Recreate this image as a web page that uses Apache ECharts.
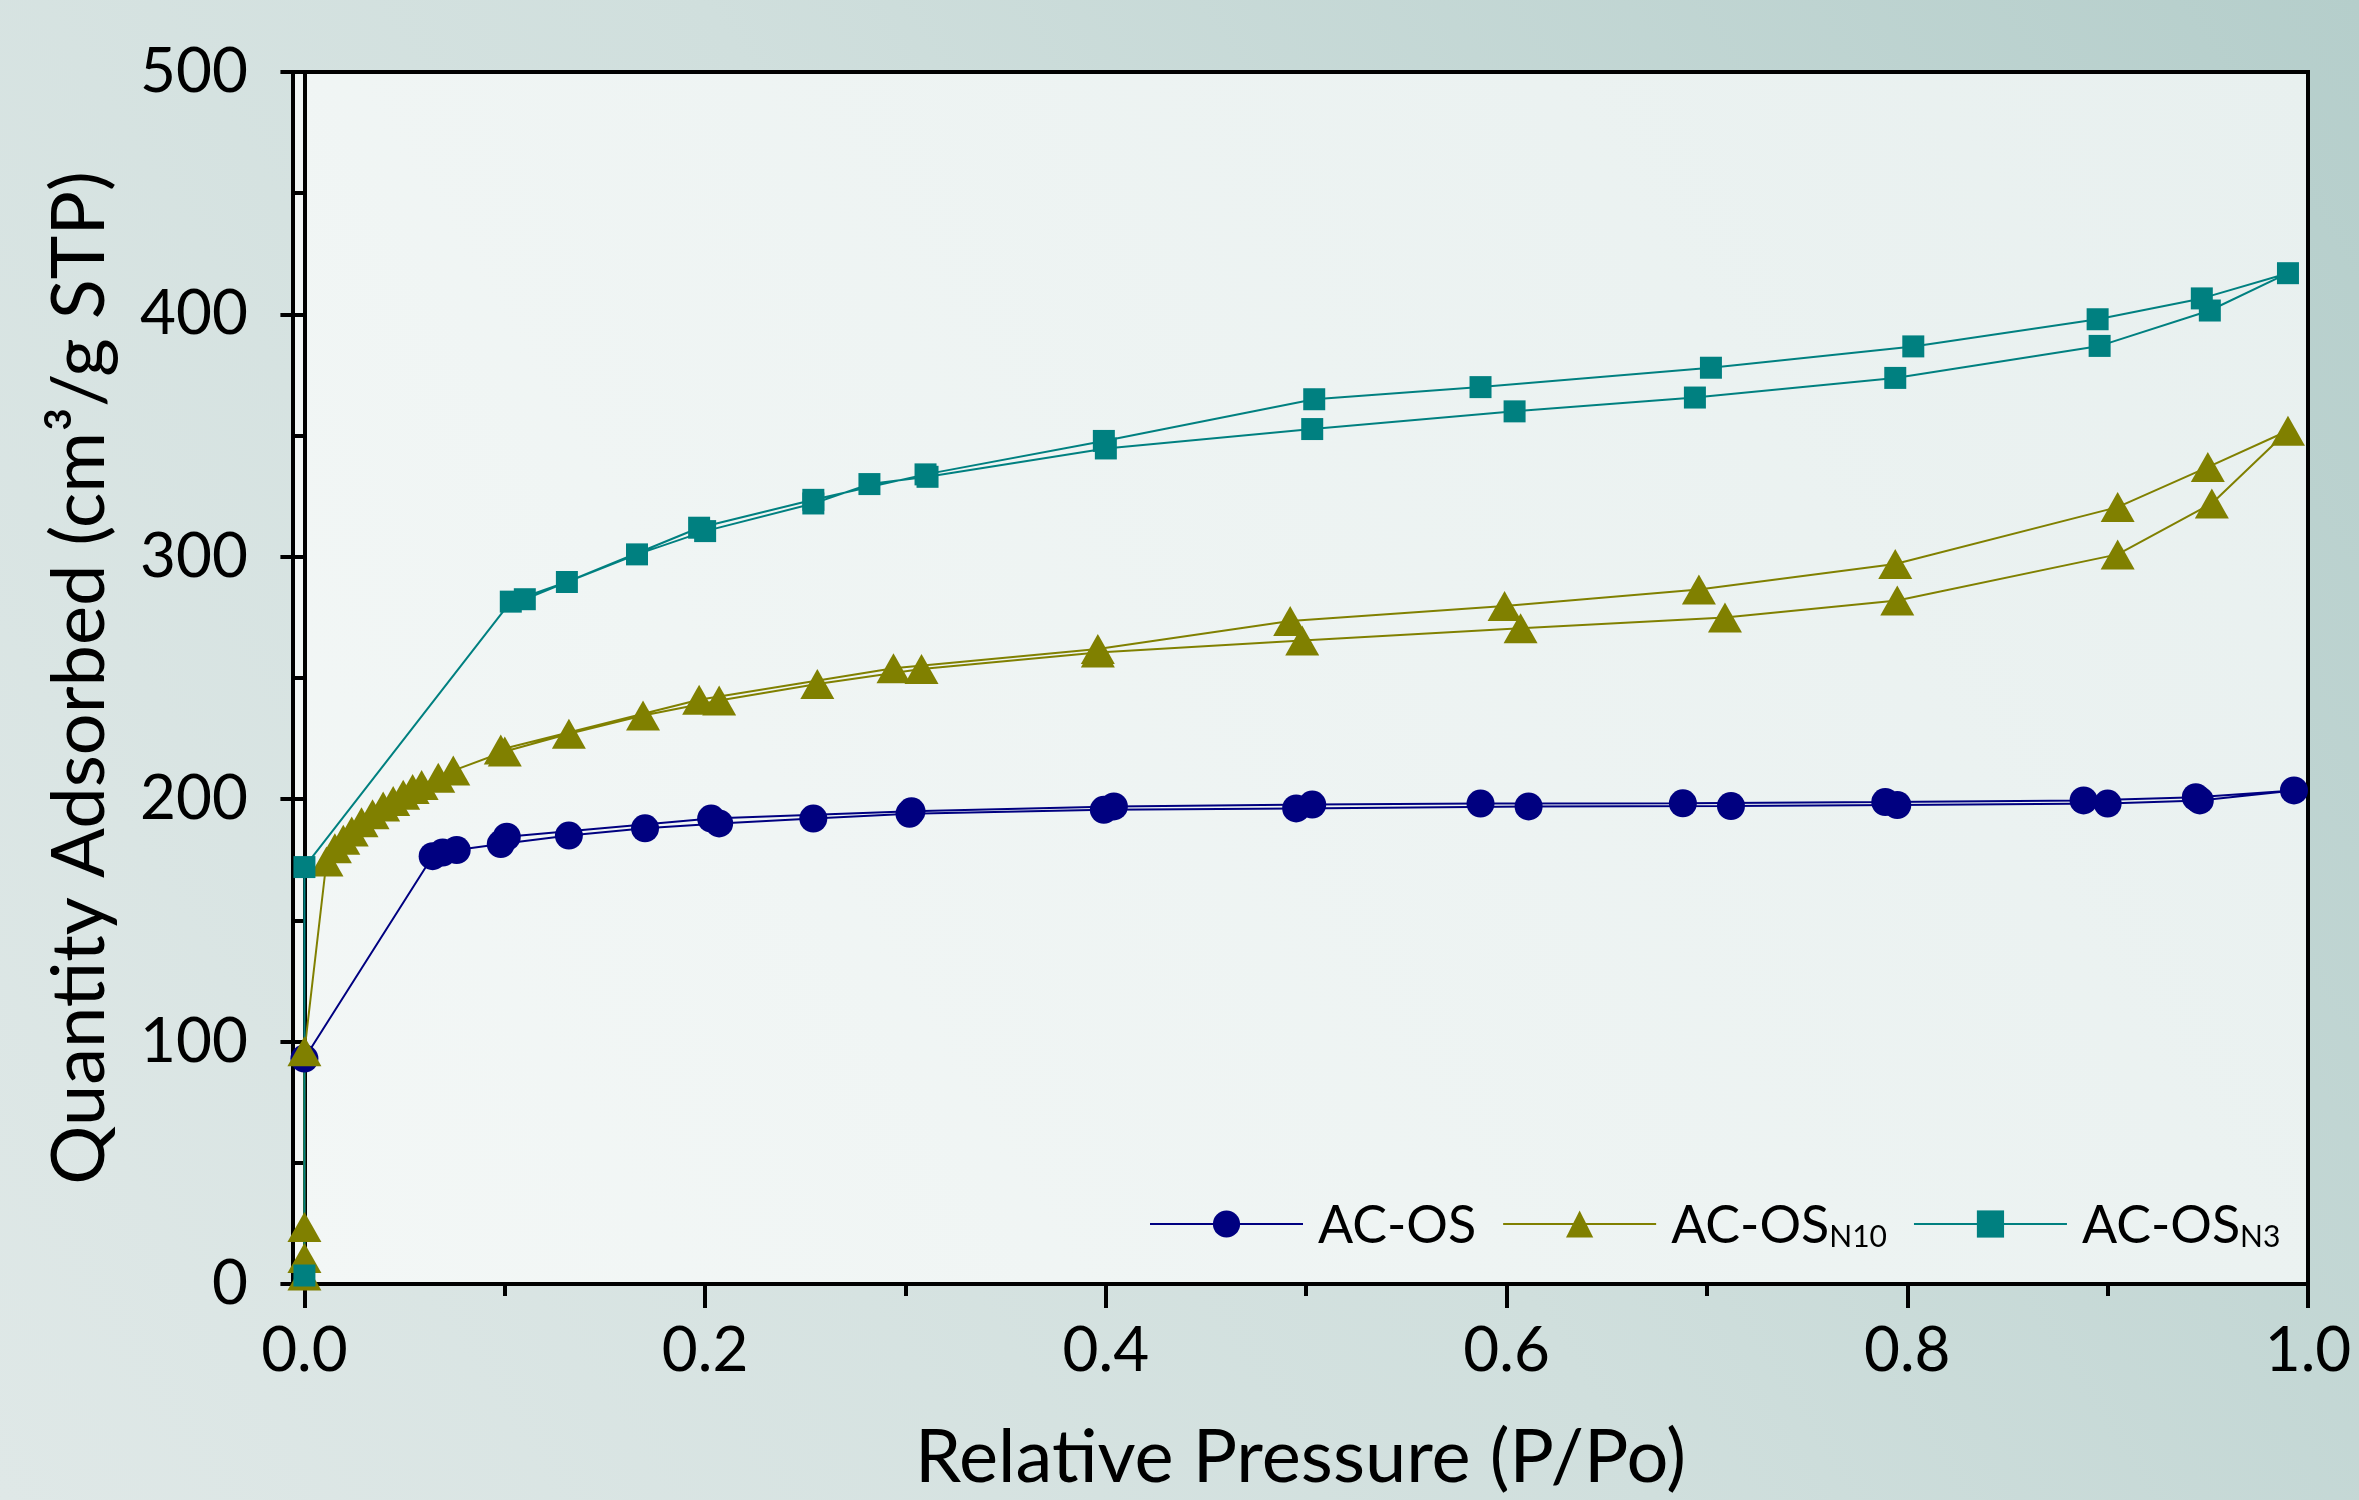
<!DOCTYPE html>
<html>
<head>
<meta charset="utf-8">
<title>Isotherms</title>
<script src="https://cdn.jsdelivr.net/npm/echarts@6/dist/echarts.min.js"></script>
<style>
  html, body { margin: 0; padding: 0; }
  #chart { width: 2359px; height: 1500px; }
</style>
</head>
<body>
<div id="chart"></div>
<script>
// relative pressure / quantity adsorbed pairs, adsorption branch then desorption branch
const acOsAds = [[0, 93], [0.064, 176.5], [0.069, 178], [0.076, 179], [0.098, 181.5], [0.132, 185], [0.17, 188], [0.207, 190], [0.254, 192], [0.302, 194], [0.399, 195.6], [0.495, 196.2], [0.611, 197], [0.712, 197.2], [0.795, 197.6], [0.9, 198.2], [0.946, 199.5], [0.993, 203.6]]
const acOsDes = [[0.944, 200.8], [0.888, 199.5], [0.789, 198.8], [0.688, 198.3], [0.587, 198.2], [0.503, 197.8], [0.404, 197], [0.303, 195], [0.203, 192], [0.101, 184.5]]

const acOsN10Ads = [[0, 3.5], [0, 10.7], [0, 23.5], [0, 96], [0.011, 174.3], [0.0152, 179.8], [0.0194, 183.3], [0.0236, 186.7], [0.0285, 190.5], [0.034, 193.8], [0.0393, 197], [0.0443, 199.3], [0.0493, 201.8], [0.054, 204.2], [0.0585, 205.9], [0.0668, 208.9], [0.0743, 211.8], [0.1, 219.7], [0.132, 227], [0.169, 234.5], [0.207, 240.7], [0.256, 247.5], [0.308, 253.7], [0.396, 260.5], [0.498, 265.5], [0.607, 270.5], [0.709, 275], [0.795, 282], [0.905, 301], [0.952, 322], [0.99, 352]]
const acOsN10Des = [[0.95, 337], [0.905, 320.5], [0.794, 297], [0.696, 286.5], [0.599, 279.7], [0.492, 273.5], [0.396, 262], [0.294, 254], [0.197, 241], [0.098, 220.5]]

const acOsN3Ads = [[0, 3.5], [0, 172], [0.103, 281.5], [0.131, 289.6], [0.166, 301], [0.2, 310.6], [0.254, 322], [0.282, 330], [0.311, 333], [0.4, 344.7], [0.503, 352.7], [0.604, 360], [0.694, 365.7], [0.794, 373.8], [0.896, 387], [0.951, 401.6], [0.99, 417]]
const acOsN3Des = [[0.947, 406.6], [0.895, 398], [0.803, 386.8], [0.702, 378], [0.587, 370], [0.504, 365], [0.399, 347.8], [0.31, 334], [0.254, 323.5], [0.197, 312], [0.11, 282.5]]

const xMajorTicks = [0, 0.2, 0.4, 0.6, 0.8, 1.0]
const xMinorTicks = [0.1, 0.3, 0.5, 0.7, 0.9]
const seriesNames = ['AC-OS', 'AC-OSN10', 'AC-OSN3']

const font = 'Lato'
const chart = echarts.init(document.getElementById('chart'))

function legendLabel(name) {
    if (name === 'AC-OSN10') return '{m|AC-OS}{s|N10}'
    if (name === 'AC-OSN3') return '{m|AC-OS}{s|N3}'
    return '{m|' + name + '}'
}

function makeSeries(name, ads, des, color, symbol, size) {
    return {
        name: name,
        type: 'line',
        data: ads.concat(des),
        symbol: symbol,
        symbolSize: size,
        showAllSymbol: true,
        color: color,
        itemStyle: { color: color },
        lineStyle: { color: color, width: 2 },
        emphasis: { disabled: true }
    }
}

chart.setOption({
    animation: false,
    backgroundColor: {
        type: 'linear', x: 0, y: 1, x2: 1, y2: 0,
        colorStops: [
            { offset: 0, color: '#dfe8e7' },
            { offset: 0.5, color: '#d0dfdd' },
            { offset: 1, color: '#b5cecb' }
        ]
    },
    grid: {
        left: 293,
        right: 51,
        top: 72,
        bottom: 212,
        show: true,
        borderColor: '#000',
        borderWidth: 4,
        backgroundColor: {
            type: 'linear', x: 0, y: 1, x2: 1, y2: 0,
            colorStops: [
                { offset: 0, color: '#f3f7f6' },
                { offset: 1, color: '#e8f0ef' }
            ]
        }
    },
    legend: {
        data: seriesNames,
        left: 1149,
        top: 1200,
        padding: 0,
        itemWidth: 153,
        itemHeight: 34,
        itemGap: 26,
        formatter: legendLabel,
        textStyle: {
            padding: [0, 0, 0, 10],
            rich: {
                m: { fontFamily: font, fontSize: 52, lineHeight: 56, color: '#000', verticalAlign: 'bottom' },
                s: { fontFamily: font, fontSize: 30, lineHeight: 34, color: '#000', verticalAlign: 'bottom' }
            }
        }
    },
    xAxis: [{
        type: 'value',
        min: -0.0057,
        max: 1,
        position: 'bottom',
        name: 'Relative Pressure (P/Po)',
        nameLocation: 'middle',
        nameGap: 137,
        nameTextStyle: { fontFamily: font, fontSize: 74, color: '#000' },
        axisLine: { show: true, onZero: false, lineStyle: { color: '#000', width: 4 } },
        axisTick: { show: true, inside: false, length: 24, customValues: xMajorTicks, lineStyle: { color: '#000', width: 4 } },
        axisLabel: {
            customValues: xMajorTicks,
            formatter: (v) => v.toFixed(1),
            fontFamily: font, fontSize: 62, color: '#000', margin: 36
        },
        splitLine: { show: false }
    }, {
        type: 'value',
        min: -0.0057,
        max: 1,
        position: 'bottom',
        axisLine: { show: false },
        axisTick: { show: true, inside: false, length: 12, customValues: xMinorTicks, lineStyle: { color: '#000', width: 4 } },
        axisLabel: { show: false },
        splitLine: { show: false }
    }],
    yAxis: {
        type: 'value',
        min: 0,
        max: 500,
        interval: 100,
        name: 'Quantity Adsorbed (cm³/g STP)',
        nameLocation: 'middle',
        nameGap: 176,
        nameTextStyle: { fontFamily: font, fontSize: 74, color: '#000' },
        axisLine: { show: true, lineStyle: { color: '#000', width: 4 } },
        axisTick: { show: true, inside: false, length: 24, lineStyle: { color: '#000', width: 4 } },
        minorTick: { show: true, splitNumber: 2, length: 12, lineStyle: { color: '#000', width: 4 } },
        axisLabel: { fontFamily: font, fontSize: 62, color: '#000', margin: 45 },
        splitLine: { show: false },
        minorSplitLine: { show: false }
    },
    series: [
        makeSeries('AC-OS', acOsAds, acOsDes, '#000080', 'circle', 28),
        makeSeries('AC-OSN10', acOsN10Ads, acOsN10Des, '#808000', 'triangle', [34, 30]),
        makeSeries('AC-OSN3', acOsN3Ads, acOsN3Des, '#008080', 'rect', 22)
    ]
})
</script>
</body>
</html>
